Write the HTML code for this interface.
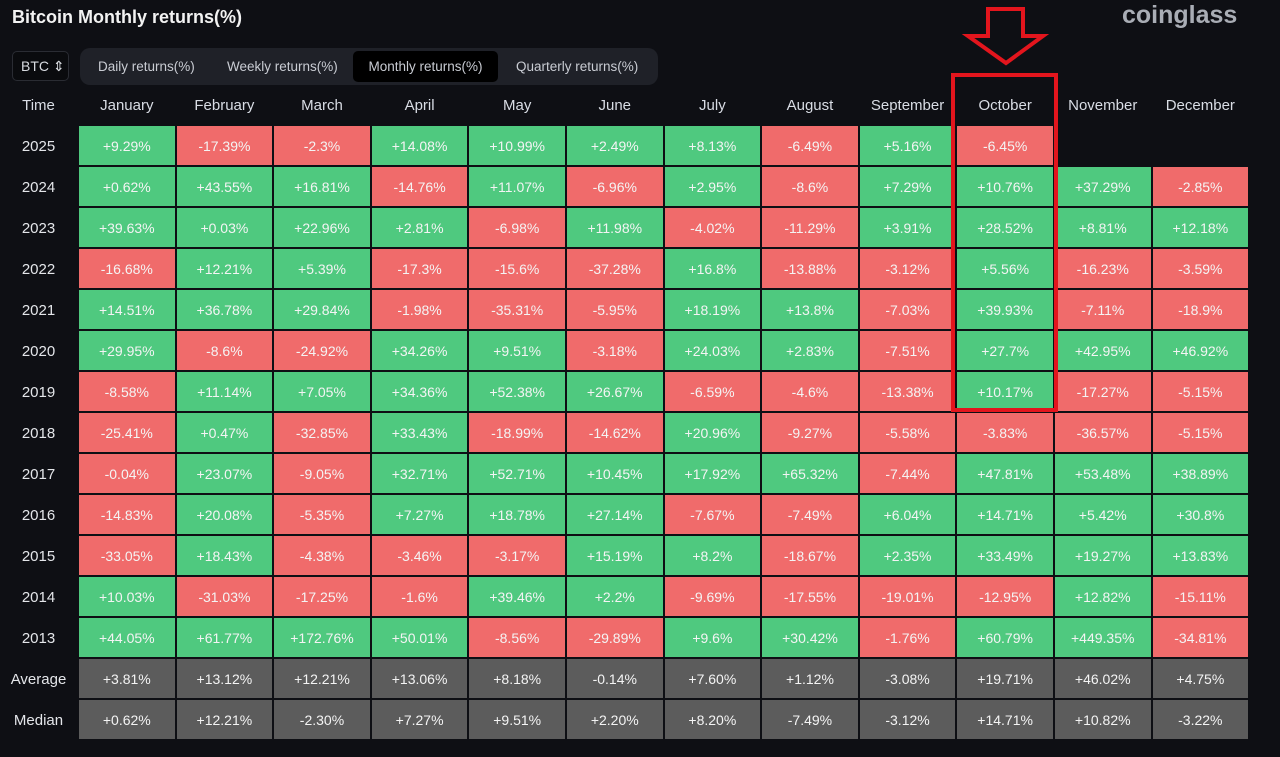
<!DOCTYPE html>
<html><head><meta charset="utf-8"><style>
*{margin:0;padding:0;box-sizing:border-box}
body{width:1280px;height:757px;background:#0e0f14;font-family:"Liberation Sans",sans-serif;overflow:hidden;position:relative;color:#e8e8ec}
.title{position:absolute;left:12px;top:7px;font-size:18px;font-weight:bold;color:#f2f2f2}
.logo{position:absolute;left:1122px;top:1px;font-size:25px;font-weight:bold;color:#a9adb5}
.btc{position:absolute;left:12px;top:51px;width:57px;height:30px;border:1px solid #2a2c33;border-radius:5px;background:#0a0b0e;font-size:14px;line-height:28px;padding-left:8px;color:#d8dbe0}
.tabs{position:absolute;left:80px;top:48px;width:578px;height:37px;background:#1f2128;border-radius:10px}
.tab{position:absolute;top:0;height:37px;line-height:37px;font-size:13.5px;color:#c9ccd3}
.tab.on{background:#000;border-radius:5px;top:3px;height:31px;line-height:31px;text-align:center}
.grid{position:absolute;left:0;top:87px;display:grid;grid-template-columns:77px repeat(12,95.6px);column-gap:2px;grid-template-rows:37px;grid-auto-rows:39px;row-gap:2px}
.grid div{display:flex;align-items:center;justify-content:center;font-size:14px;color:#f4f4f4}
.grid .h{font-size:15px;color:#d9dde5}
.grid .y{font-size:15px;color:#e4e6ea;padding-top:2px}
.g{background:#4fc97f}.r{background:#f06b6b}.a{background:#5c5c5c}
.box{position:absolute;left:951px;top:73px;width:107px;height:339px;border:4px solid #e3151d}
</style></head><body>
<div class="title">Bitcoin Monthly returns(%)</div>
<div class="logo">coinglass</div>
<div class="btc">BTC ⇕</div>
<div class="tabs">
<div class="tab" style="left:18px">Daily returns(%)</div>
<div class="tab" style="left:147px">Weekly returns(%)</div>
<div class="tab on" style="left:273px;width:145px">Monthly returns(%)</div>
<div class="tab" style="left:436px">Quarterly returns(%)</div>
</div>
<div class="grid">
<div class="h">Time</div><div class="h">January</div><div class="h">February</div><div class="h">March</div><div class="h">April</div><div class="h">May</div><div class="h">June</div><div class="h">July</div><div class="h">August</div><div class="h">September</div><div class="h">October</div><div class="h">November</div><div class="h">December</div>
<div class="y">2025</div><div class="g">+9.29%</div><div class="r">-17.39%</div><div class="r">-2.3%</div><div class="g">+14.08%</div><div class="g">+10.99%</div><div class="g">+2.49%</div><div class="g">+8.13%</div><div class="r">-6.49%</div><div class="g">+5.16%</div><div class="r">-6.45%</div><div></div><div></div>
<div class="y">2024</div><div class="g">+0.62%</div><div class="g">+43.55%</div><div class="g">+16.81%</div><div class="r">-14.76%</div><div class="g">+11.07%</div><div class="r">-6.96%</div><div class="g">+2.95%</div><div class="r">-8.6%</div><div class="g">+7.29%</div><div class="g">+10.76%</div><div class="g">+37.29%</div><div class="r">-2.85%</div>
<div class="y">2023</div><div class="g">+39.63%</div><div class="g">+0.03%</div><div class="g">+22.96%</div><div class="g">+2.81%</div><div class="r">-6.98%</div><div class="g">+11.98%</div><div class="r">-4.02%</div><div class="r">-11.29%</div><div class="g">+3.91%</div><div class="g">+28.52%</div><div class="g">+8.81%</div><div class="g">+12.18%</div>
<div class="y">2022</div><div class="r">-16.68%</div><div class="g">+12.21%</div><div class="g">+5.39%</div><div class="r">-17.3%</div><div class="r">-15.6%</div><div class="r">-37.28%</div><div class="g">+16.8%</div><div class="r">-13.88%</div><div class="r">-3.12%</div><div class="g">+5.56%</div><div class="r">-16.23%</div><div class="r">-3.59%</div>
<div class="y">2021</div><div class="g">+14.51%</div><div class="g">+36.78%</div><div class="g">+29.84%</div><div class="r">-1.98%</div><div class="r">-35.31%</div><div class="r">-5.95%</div><div class="g">+18.19%</div><div class="g">+13.8%</div><div class="r">-7.03%</div><div class="g">+39.93%</div><div class="r">-7.11%</div><div class="r">-18.9%</div>
<div class="y">2020</div><div class="g">+29.95%</div><div class="r">-8.6%</div><div class="r">-24.92%</div><div class="g">+34.26%</div><div class="g">+9.51%</div><div class="r">-3.18%</div><div class="g">+24.03%</div><div class="g">+2.83%</div><div class="r">-7.51%</div><div class="g">+27.7%</div><div class="g">+42.95%</div><div class="g">+46.92%</div>
<div class="y">2019</div><div class="r">-8.58%</div><div class="g">+11.14%</div><div class="g">+7.05%</div><div class="g">+34.36%</div><div class="g">+52.38%</div><div class="g">+26.67%</div><div class="r">-6.59%</div><div class="r">-4.6%</div><div class="r">-13.38%</div><div class="g">+10.17%</div><div class="r">-17.27%</div><div class="r">-5.15%</div>
<div class="y">2018</div><div class="r">-25.41%</div><div class="g">+0.47%</div><div class="r">-32.85%</div><div class="g">+33.43%</div><div class="r">-18.99%</div><div class="r">-14.62%</div><div class="g">+20.96%</div><div class="r">-9.27%</div><div class="r">-5.58%</div><div class="r">-3.83%</div><div class="r">-36.57%</div><div class="r">-5.15%</div>
<div class="y">2017</div><div class="r">-0.04%</div><div class="g">+23.07%</div><div class="r">-9.05%</div><div class="g">+32.71%</div><div class="g">+52.71%</div><div class="g">+10.45%</div><div class="g">+17.92%</div><div class="g">+65.32%</div><div class="r">-7.44%</div><div class="g">+47.81%</div><div class="g">+53.48%</div><div class="g">+38.89%</div>
<div class="y">2016</div><div class="r">-14.83%</div><div class="g">+20.08%</div><div class="r">-5.35%</div><div class="g">+7.27%</div><div class="g">+18.78%</div><div class="g">+27.14%</div><div class="r">-7.67%</div><div class="r">-7.49%</div><div class="g">+6.04%</div><div class="g">+14.71%</div><div class="g">+5.42%</div><div class="g">+30.8%</div>
<div class="y">2015</div><div class="r">-33.05%</div><div class="g">+18.43%</div><div class="r">-4.38%</div><div class="r">-3.46%</div><div class="r">-3.17%</div><div class="g">+15.19%</div><div class="g">+8.2%</div><div class="r">-18.67%</div><div class="g">+2.35%</div><div class="g">+33.49%</div><div class="g">+19.27%</div><div class="g">+13.83%</div>
<div class="y">2014</div><div class="g">+10.03%</div><div class="r">-31.03%</div><div class="r">-17.25%</div><div class="r">-1.6%</div><div class="g">+39.46%</div><div class="g">+2.2%</div><div class="r">-9.69%</div><div class="r">-17.55%</div><div class="r">-19.01%</div><div class="r">-12.95%</div><div class="g">+12.82%</div><div class="r">-15.11%</div>
<div class="y">2013</div><div class="g">+44.05%</div><div class="g">+61.77%</div><div class="g">+172.76%</div><div class="g">+50.01%</div><div class="r">-8.56%</div><div class="r">-29.89%</div><div class="g">+9.6%</div><div class="g">+30.42%</div><div class="r">-1.76%</div><div class="g">+60.79%</div><div class="g">+449.35%</div><div class="r">-34.81%</div>
<div class="y">Average</div><div class="a">+3.81%</div><div class="a">+13.12%</div><div class="a">+12.21%</div><div class="a">+13.06%</div><div class="a">+8.18%</div><div class="a">-0.14%</div><div class="a">+7.60%</div><div class="a">+1.12%</div><div class="a">-3.08%</div><div class="a">+19.71%</div><div class="a">+46.02%</div><div class="a">+4.75%</div>
<div class="y">Median</div><div class="a">+0.62%</div><div class="a">+12.21%</div><div class="a">-2.30%</div><div class="a">+7.27%</div><div class="a">+9.51%</div><div class="a">+2.20%</div><div class="a">+8.20%</div><div class="a">-7.49%</div><div class="a">-3.12%</div><div class="a">+14.71%</div><div class="a">+10.82%</div><div class="a">-3.22%</div>
</div>
<div class="box"></div>
<svg style="position:absolute;left:0;top:0" width="1280" height="80"><polygon points="988,9 1023,9 1023,36 1043,36 1006,63 968,36 988,36" fill="none" stroke="#e3151d" stroke-width="4" stroke-linejoin="miter"/></svg>
</body></html>
